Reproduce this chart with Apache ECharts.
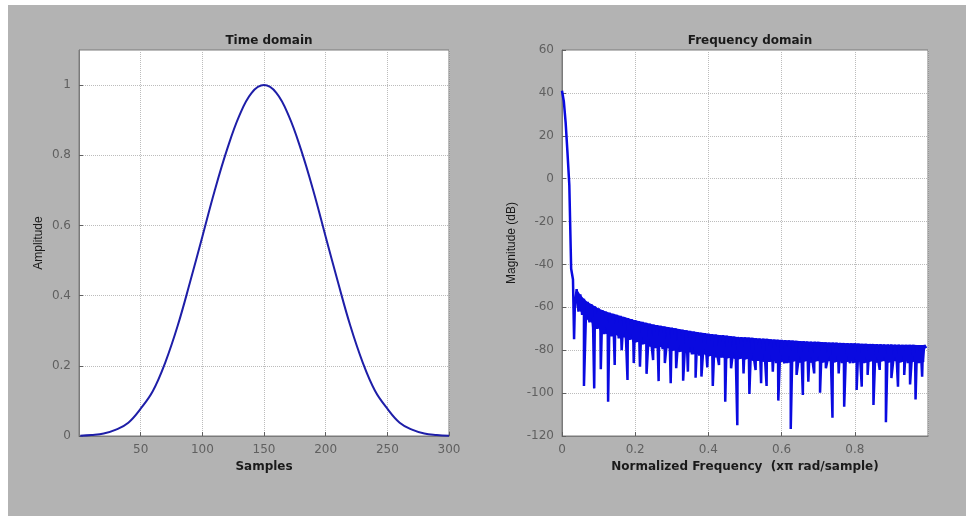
<!DOCTYPE html>
<html>
<head>
<meta charset="utf-8">
<script src="https://cdn.jsdelivr.net/npm/echarts@6.0.0/dist/echarts.min.js"></script>
<style>
  html, body { margin: 0; padding: 0; background: #ffffff; }
  #chart { position: absolute; left: 8px; top: 5px; width: 958px; height: 511px; }
</style>
</head>
<body>
<div id="chart"></div>
<script>
// time domain: window samples (read every 10 samples)
var sampleIdx = [1, 10, 20, 30, 40, 50, 60, 70, 80, 90, 100, 110, 120, 130, 140, 150,
  160, 170, 180, 190, 200, 210, 220, 230, 240, 250, 260, 270, 280, 290, 300];
var timeAmp = [0.001, 0.003, 0.007, 0.018, 0.038, 0.078, 0.129, 0.210, 0.314, 0.438, 0.568,
  0.699, 0.816, 0.913, 0.978, 1.000, 0.978, 0.913, 0.816, 0.699, 0.568, 0.438, 0.314,
  0.210, 0.129, 0.078, 0.038, 0.018, 0.007, 0.003, 0.001];

// frequency domain: magnitude (dB) every 0.005 (x pi rad/sample)
var freqStep = 0.005;
var magDb = [
  41, 36, 26, 12, -3, -42, -47, -60, -51.5, -62,
  -54, -63.5, -56, -66, -57.5, -67, -58.5, -69.5, -59.5, -70,
  -60.5, -71, -61.3, -72.5, -62, -72, -62.5, -73.5, -63, -73,
  -63.5, -74.5, -64, -74, -64.5, -75.5, -65, -75, -65.5, -76.5,
  -66, -76, -66.4, -77.5, -66.8, -77, -67.2, -78.5, -67.6, -78,
  -68, -79, -68.3, -78.5, -68.6, -79.5, -68.9, -79, -69.2, -80.5,
  -69.5, -80, -69.8, -81, -70.1, -80.5, -70.4, -81.5, -70.7, -81,
  -71, -82, -71.3, -81.5, -71.5, -82.5, -71.8, -82, -72, -83,
  -72.3, -82.5, -72.5, -83.5, -72.7, -83, -72.9, -83.5, -73, -84,
  -73.2, -83.5, -73.4, -84, -73.6, -84.5, -73.8, -84, -73.9, -84.5,
  -74, -84, -74.1, -85, -74.2, -84.5, -74.4, -85, -74.5, -85.5,
  -74.6, -85, -74.7, -85.5, -74.9, -85, -75, -86, -75.1, -85.5,
  -75.2, -85, -75.3, -86, -75.4, -85.5, -75.5, -85, -75.6, -86,
  -75.7, -85.5, -75.8, -85, -75.9, -86, -76, -85.5, -76, -85,
  -76.1, -86, -76.2, -85.5, -76.3, -85, -76.4, -86, -76.4, -85.5,
  -76.5, -85, -76.6, -86, -76.6, -85.5, -76.7, -85, -76.8, -86,
  -76.8, -85.5, -76.9, -85, -77, -86, -77, -85.5, -77.1, -85,
  -77.1, -86, -77.2, -85.5, -77.2, -85, -77.3, -86, -77.3, -85.5,
  -77.3, -85, -77.4, -86, -77.4, -85.5, -77.5, -85, -77.5, -86,
  -77.5, -85.5, -77.5, -85, -77.6, -86, -77.6, -85.5, -77.6, -79
];
// deep nulls
var spikeFreq = [0.033, 0.060, 0.088, 0.106, 0.126, 0.144, 0.163, 0.179, 0.196, 0.213,
  0.231, 0.249, 0.264, 0.281, 0.297, 0.312, 0.331, 0.344, 0.365, 0.381,
  0.397, 0.412, 0.429, 0.446, 0.462, 0.479, 0.496, 0.512, 0.529, 0.544,
  0.559, 0.576, 0.591, 0.608, 0.625, 0.641, 0.658, 0.673, 0.689, 0.705,
  0.721, 0.739, 0.756, 0.771, 0.787, 0.805, 0.819, 0.835, 0.851, 0.868,
  0.885, 0.900, 0.918, 0.935, 0.951, 0.966, 0.984];
var spikeDb = [-74.9, -96.7, -97.8, -88.9, -104, -86.9, -80, -93.9, -86, -87.7,
  -91, -84.6, -94.4, -86, -95.4, -88.4, -94.2, -90, -92.8, -92.3,
  -88, -96.7, -86.9, -104, -88.4, -115, -90.8, -100.4, -89.2, -95.4,
  -96.7, -90, -103.5, -86, -116.7, -91.5, -100.9, -94.7, -90.8, -99.8,
  -88.4, -111.5, -90.8, -106.3, -86, -98.5, -97, -91.5, -105.5, -89.2,
  -113.6, -93, -97, -91.5, -96, -103, -92.3];

var timeData = [];
for (var i = 0; i < sampleIdx.length; i++) {
  timeData.push([sampleIdx[i], timeAmp[i]]);
}
var specData = [];
for (var k = 0; k < magDb.length; k++) {
  specData.push([k * freqStep, magDb[k]]);
}
for (var s = 0; s < spikeFreq.length; s++) {
  specData.push([spikeFreq[s], spikeDb[s]]);
}
specData.sort(function (a, b) { return a[0] - b[0]; });

// the fast ripple band (high samples on even index, low ones on odd), filled solid
var bandHi = [], bandLo = [];
for (var j = 4; 2 * j < magDb.length; j++) {
  bandHi.push([2 * j * freqStep, magDb[2 * j]]);
  bandLo.push([2 * j * freqStep, magDb[2 * j - 1]]);
}

var labelStyle = { color: '#606060', fontFamily: 'DejaVu Sans', fontSize: 12, margin: 8 };
var gridLine = { show: true, lineStyle: { color: '#bcbcbc', type: 'dotted', width: 1 } };
var axLine = { show: true, onZero: false, lineStyle: { color: '#7a7a7a', width: 1 } };
var axTick = { show: true, inside: true, length: 4, lineStyle: { color: '#606060' } };
var xName = { color: '#1a1a1a', fontFamily: 'DejaVu Sans', fontSize: 12, fontWeight: 'bold' };
var yName = { color: '#1a1a1a', fontFamily: 'Liberation Sans', fontSize: 12 };
var specBlue = '#0a0ae0';

var chart = echarts.init(document.getElementById('chart'));
var option = {
  animation: false,
  backgroundColor: '#b3b3b3',
  title: [
    {
      text: 'Time domain',
      left: 256, top: 25, textAlign: 'center',
      textStyle: { color: '#1a1a1a', fontFamily: 'DejaVu Sans', fontSize: 12, fontWeight: 'bold' }
    },
    {
      text: 'Frequency domain',
      left: 737, top: 25, textAlign: 'center',
      textStyle: { color: '#1a1a1a', fontFamily: 'DejaVu Sans', fontSize: 12, fontWeight: 'bold' }
    }
  ],
  grid: [
    { left: 71, top: 45, width: 370, height: 386, show: true, backgroundColor: '#ffffff', borderColor: '#7a7a7a', borderWidth: 1 },
    { left: 554, top: 45, width: 366, height: 386, show: true, backgroundColor: '#ffffff', borderColor: '#7a7a7a', borderWidth: 1 }
  ],
  xAxis: [
    {
      gridIndex: 0, type: 'value', min: 0, max: 300, interval: 50,
      name: 'Samples', nameLocation: 'middle', nameGap: 23, nameTextStyle: xName,
      axisLine: axLine, axisTick: axTick, splitLine: gridLine,
      axisLabel: Object.assign({ showMinLabel: false }, labelStyle)
    },
    {
      gridIndex: 1, type: 'value', min: 0, max: 1, interval: 0.2,
      name: 'Normalized Frequency  (x\u03c0 rad/sample)',
      nameLocation: 'middle', nameGap: 23, nameTextStyle: xName,
      axisLine: axLine, axisTick: axTick, splitLine: gridLine,
      axisLabel: Object.assign({ showMaxLabel: false }, labelStyle)
    }
  ],
  yAxis: [
    {
      gridIndex: 0, type: 'value', min: 0, max: 1.1, interval: 0.2,
      name: 'Amplitude', nameLocation: 'middle', nameGap: 34, nameRotate: 90, nameTextStyle: yName,
      axisLine: axLine, axisTick: axTick, splitLine: gridLine,
      axisLabel: Object.assign({ showMaxLabel: false }, labelStyle)
    },
    {
      gridIndex: 1, type: 'value', min: -120, max: 60, interval: 20,
      name: 'Magnitude (dB)', nameLocation: 'middle', nameGap: 44, nameRotate: 90, nameTextStyle: yName,
      axisLine: axLine, axisTick: axTick, splitLine: gridLine,
      axisLabel: labelStyle
    }
  ],
  series: [
    {
      type: 'line', xAxisIndex: 0, yAxisIndex: 0,
      data: timeData, smooth: 0.4, showSymbol: false,
      lineStyle: { color: '#1e1ea8', width: 2 }
    },
    {
      type: 'custom', xAxisIndex: 1, yAxisIndex: 1, silent: true,
      data: bandHi,
      renderItem: function (params, api) {
        if (params.dataIndex !== 0) return null;
        var pts = [];
        for (var a = 0; a < bandHi.length; a++) pts.push(api.coord(bandHi[a]));
        for (var b = bandLo.length - 1; b >= 0; b--) pts.push(api.coord(bandLo[b]));
        return { type: 'polygon', shape: { points: pts }, style: { fill: specBlue } };
      }
    },
    {
      type: 'line', xAxisIndex: 1, yAxisIndex: 1,
      data: specData, showSymbol: false, sampling: null,
      lineStyle: { color: specBlue, width: 2.5 }
    }
  ]
};
chart.setOption(option);
</script>
</body>
</html>
